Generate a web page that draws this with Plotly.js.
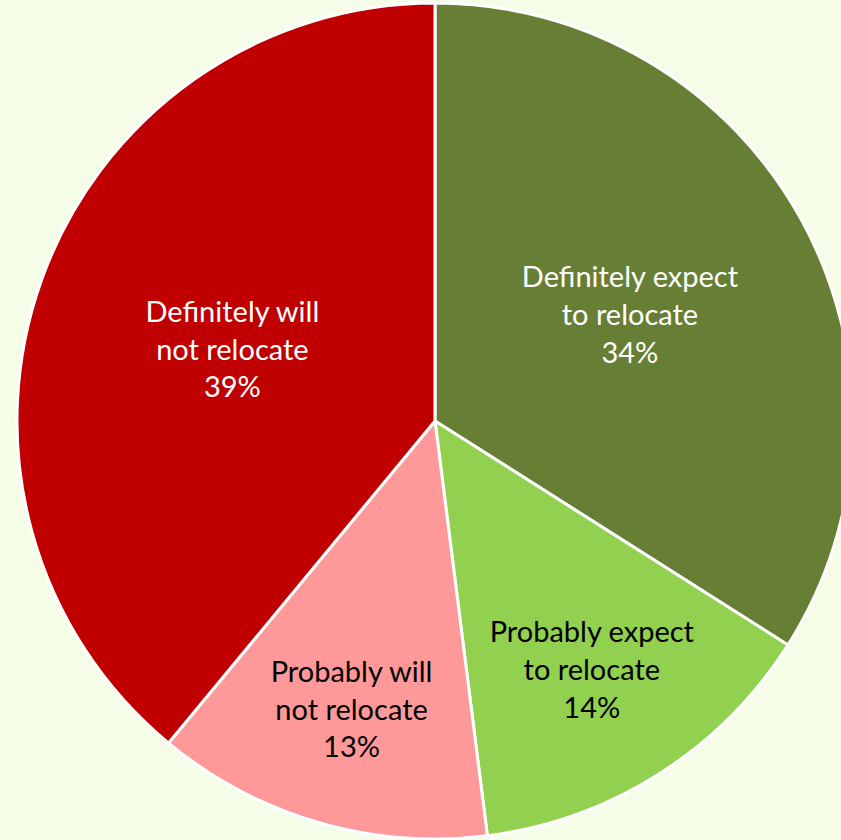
<!DOCTYPE html>
<html>
<head>
<meta charset="utf-8">
<script src="https://cdn.plot.ly/plotly-3.0.1.min.js"></script>
<style>
html,body{margin:0;padding:0;overflow:hidden;background:#F5FDE9;}
#chart{width:853px;height:840px;}
</style>
</head>
<body>
<div id="chart"></div>
<script>
const categories = ["Definitely expect<br>to relocate", "Probably expect<br>to relocate", "Probably will<br>not relocate", "Definitely will<br>not relocate"];
const shares = [34, 14, 13, 39];
const sliceColors = ["#677F35", "#92D050", "#FF9999", "#C00000"];
const textColors = ["#FFFFFF", "#000000", "#000000", "#FFFFFF"];

Plotly.newPlot("chart", [{
  type: "pie",
  labels: categories,
  values: shares,
  sort: false,
  direction: "clockwise",
  rotation: 0,
  marker: {colors: sliceColors, line: {color: "#FFFFFF", width: 3}},
  texttemplate: "%{label}<br>%{percent:.0%}",
  textposition: "inside",
  insidetextorientation: "horizontal",
  insidetextfont: {family: "Lato, 'Open Sans', sans-serif", size: 29, color: textColors},
  hoverinfo: "none",
  showlegend: false
}], {
  width: 853,
  height: 840,
  margin: {l: 17, r: 0, t: 3, b: 1},
  paper_bgcolor: "#F5FDE9",
  plot_bgcolor: "#F5FDE9",
  showlegend: false
}, {displayModeBar: false, staticPlot: true});
</script>
</body>
</html>
